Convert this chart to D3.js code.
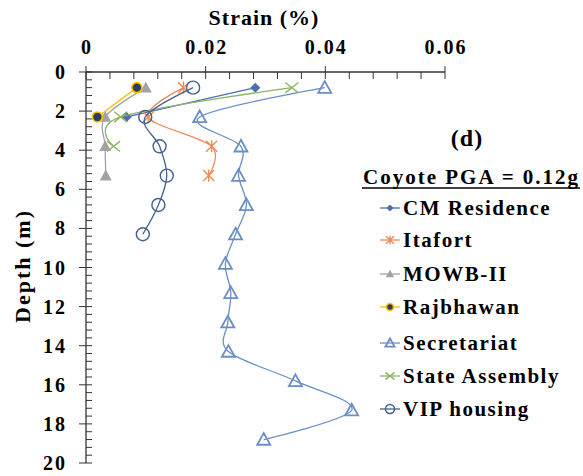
<!DOCTYPE html>
<html>
<head>
<meta charset="utf-8">
<script src="https://d3js.org/d3.v7.min.js"></script>
<style>
body { margin: 0; background: #fff; }
text { font-family: "Liberation Serif", "Times New Roman", serif; font-weight: bold; fill: #000; }
.series path.line { fill: none; stroke-width: 1.3; }
</style>
</head>
<body>
<div id="chart"></div>
<script>
// depths (m) of the sampling points
var depths = [0.8, 2.3, 3.8, 5.3, 6.8, 8.3, 9.8, 11.3, 12.8, 14.3, 15.8, 17.3, 18.8];

// peak strain (%) per site, top to bottom
var cmResidence   = [0.0283, 0.0068];
var itafort       = [0.0163, 0.0104, 0.0210, 0.0205];
var mowb          = [0.0100, 0.0032, 0.0032, 0.0033];
var rajbhawan     = [0.0085, 0.0019];
var secretariat   = [0.0399, 0.0190, 0.0259, 0.0255, 0.0268, 0.0250, 0.0233, 0.0242, 0.0237, 0.0238, 0.0350, 0.0444, 0.0297];
var stateAssembly = [0.0344, 0.0058, 0.0046];
var vipHousing    = [0.0179, 0.0099, 0.0123, 0.0135, 0.0121, 0.0095];

var seriesNames = ["CM Residence", "Itafort", "MOWB-II", "Rajbhawan", "Secretariat", "State Assembly", "VIP housing"];
var xTicks = [0, 0.02, 0.04, 0.06];
var yTicks = [0, 2, 4, 6, 8, 10, 12, 14, 16, 18, 20];

var series = [
  {name: seriesNames[0], values: cmResidence,   color: "#4a6fb0", marker: "diamond"},
  {name: seriesNames[1], values: itafort,       color: "#ee8a5b", marker: "asterisk"},
  {name: seriesNames[2], values: mowb,          color: "#a3a3a3", marker: "triangle"},
  {name: seriesNames[3], values: rajbhawan,     color: "#ffc000", marker: "dot"},
  {name: seriesNames[4], values: secretariat,   color: "#6a8fc6", marker: "openTriangle"},
  {name: seriesNames[5], values: stateAssembly, color: "#8db46a", marker: "cross"},
  {name: seriesNames[6], values: vipHousing,    color: "#44628f", marker: "circle"}
];

var W = 583, H = 476;
var svg = d3.select("#chart").append("svg").attr("width", W).attr("height", H);

var x = d3.scaleLinear().domain([0, 0.06]).range([86, 445]);
var y = d3.scaleLinear().domain([0, 20]).range([72, 463]);

// minor ticks
var xMinor = d3.range(0, 0.0601, 0.004).filter(function(v) { return Math.abs(v / 0.02 - Math.round(v / 0.02)) > 1e-6; });
var yMinor = d3.range(0, 20.01, 0.4).filter(function(v) { return Math.abs(v / 2 - Math.round(v / 2)) > 1e-6; });

var axisColor = "#333";
var axes = svg.append("g");
axes.selectAll("line.xmin").data(xMinor).enter().append("line")
  .attr("x1", function(d) { return x(d); }).attr("x2", function(d) { return x(d); })
  .attr("y1", y(0)).attr("y2", y(0) + 7)
  .attr("stroke", axisColor).attr("stroke-width", 1);
axes.selectAll("line.xmaj").data(xTicks).enter().append("line")
  .attr("x1", function(d) { return x(d); }).attr("x2", function(d) { return x(d); })
  .attr("y1", y(0) - 6).attr("y2", y(0) + 7)
  .attr("stroke", axisColor).attr("stroke-width", 1);
axes.selectAll("line.ymin").data(yMinor).enter().append("line")
  .attr("x1", x(0)).attr("x2", x(0) + 6)
  .attr("y1", function(d) { return y(d); }).attr("y2", function(d) { return y(d); })
  .attr("stroke", axisColor).attr("stroke-width", 1);
axes.selectAll("line.ymaj").data(yTicks).enter().append("line")
  .attr("x1", x(0) - 7).attr("x2", x(0) + 6)
  .attr("y1", function(d) { return y(d); }).attr("y2", function(d) { return y(d); })
  .attr("stroke", axisColor).attr("stroke-width", 1);
axes.append("line").attr("x1", x(0)).attr("x2", x(0.06)).attr("y1", y(0)).attr("y2", y(0))
  .attr("stroke", axisColor).attr("stroke-width", 1.3);
axes.append("line").attr("x1", x(0)).attr("x2", x(0)).attr("y1", y(0)).attr("y2", y(20))
  .attr("stroke", axisColor).attr("stroke-width", 1.3);

axes.selectAll("text.xl").data(xTicks).enter().append("text")
  .attr("x", function(d) { return x(d) + 1; }).attr("y", 54)
  .attr("text-anchor", "middle").style("font-size", "20px").style("letter-spacing", "2px")
  .text(function(d) { return d === 0 ? "0" : d3.format(".2f")(d); });
axes.selectAll("text.yl").data(yTicks).enter().append("text")
  .attr("x", 67).attr("y", function(d) { return y(d) + 7; })
  .attr("text-anchor", "end").style("font-size", "20px").style("letter-spacing", "2px")
  .text(function(d) { return d; });

svg.append("text").attr("x", 264).attr("y", 25).attr("text-anchor", "middle")
  .style("font-size", "22px").style("letter-spacing", "1px").text("Strain (%)");
svg.append("text").attr("transform", "translate(30,266) rotate(-90)").attr("text-anchor", "middle")
  .style("font-size", "22px").style("letter-spacing", "2px").text("Depth (m)");
svg.append("text").attr("x", 467).attr("y", 146).attr("text-anchor", "middle")
  .style("font-size", "24px").style("letter-spacing", "1px").text("(d)");

function drawMarker(g, type, color, s) {
  if (type === "diamond") {
    g.append("path").attr("d", "M0," + (-s) + "L" + s + ",0L0," + s + "L" + (-s) + ",0Z").attr("fill", color);
  } else if (type === "triangle") {
    g.append("path").attr("d", "M0," + (-s) + "L" + s + "," + (s * 0.8) + "L" + (-s) + "," + (s * 0.8) + "Z").attr("fill", color);
  } else if (type === "openTriangle") {
    g.append("path").attr("d", "M0," + (-s) + "L" + s + "," + (s * 0.8) + "L" + (-s) + "," + (s * 0.8) + "Z")
      .attr("fill", "none").attr("stroke", color).attr("stroke-width", 1.8);
  } else if (type === "dot") {
    g.append("circle").attr("r", s).attr("fill", "#2f3e5c").attr("stroke", color).attr("stroke-width", 1.6);
  } else if (type === "circle") {
    g.append("circle").attr("r", s).attr("fill", "none").attr("stroke", color).attr("stroke-width", 1.4);
  } else if (type === "asterisk") {
    g.append("path").attr("d", "M" + (-s) + "," + (-s) + "L" + s + "," + s + "M" + (-s) + "," + s + "L" + s + "," + (-s) + "M0," + (-s * 1.1) + "L0," + (s * 1.1))
      .attr("stroke", color).attr("stroke-width", 1.4).attr("fill", "none");
  } else if (type === "cross") {
    g.append("path").attr("d", "M" + (-s) + "," + (-s * 0.8) + "L" + s + "," + (s * 0.8) + "M" + (-s) + "," + (s * 0.8) + "L" + s + "," + (-s * 0.8))
      .attr("stroke", color).attr("stroke-width", 1.4).attr("fill", "none");
  }
}

var sizes = {diamond: 5, triangle: 6, openTriangle: 6.5, dot: 5, circle: 6.5, asterisk: 5.5, cross: 6.5};

var line = d3.line()
  .x(function(d) { return x(d[0]); })
  .y(function(d) { return y(d[1]); })
  .curve(d3.curveCardinal.tension(0));

series.forEach(function(s) {
  var pts = s.values.map(function(v, i) { return [v, depths[i]]; });
  var g = svg.append("g").attr("class", "series");
  g.append("path").attr("class", "line").datum(pts).attr("d", line).attr("stroke", s.color);
  pts.forEach(function(p) {
    var m = g.append("g").attr("transform", "translate(" + x(p[0]) + "," + y(p[1]) + ")");
    drawMarker(m, s.marker, s.color, sizes[s.marker]);
  });
});

// legend
var lg = svg.append("g");
lg.append("text").attr("x", 363).attr("y", 184).style("font-size", "21px").style("letter-spacing", "2px")
  .text("Coyote PGA = 0.12g");
lg.append("line").attr("x1", 362).attr("x2", 580).attr("y1", 188).attr("y2", 188)
  .attr("stroke", "#000").attr("stroke-width", 1.5);
var legendY = [208, 240, 274, 307, 343, 376, 409];
series.forEach(function(s, i) {
  var row = lg.append("g").attr("transform", "translate(0," + legendY[i] + ")");
  row.append("line").attr("x1", 380).attr("x2", 400).attr("y1", 0).attr("y2", 0)
    .attr("stroke", s.color).attr("stroke-width", 1.3);
  var m = row.append("g").attr("transform", "translate(390,0)");
  drawMarker(m, s.marker, s.color, sizes[s.marker] * 0.7);
  row.append("text").attr("x", 403).attr("y", 7).style("font-size", "21px").style("letter-spacing", "1.5px")
    .text(s.name);
});
</script>
</body>
</html>
